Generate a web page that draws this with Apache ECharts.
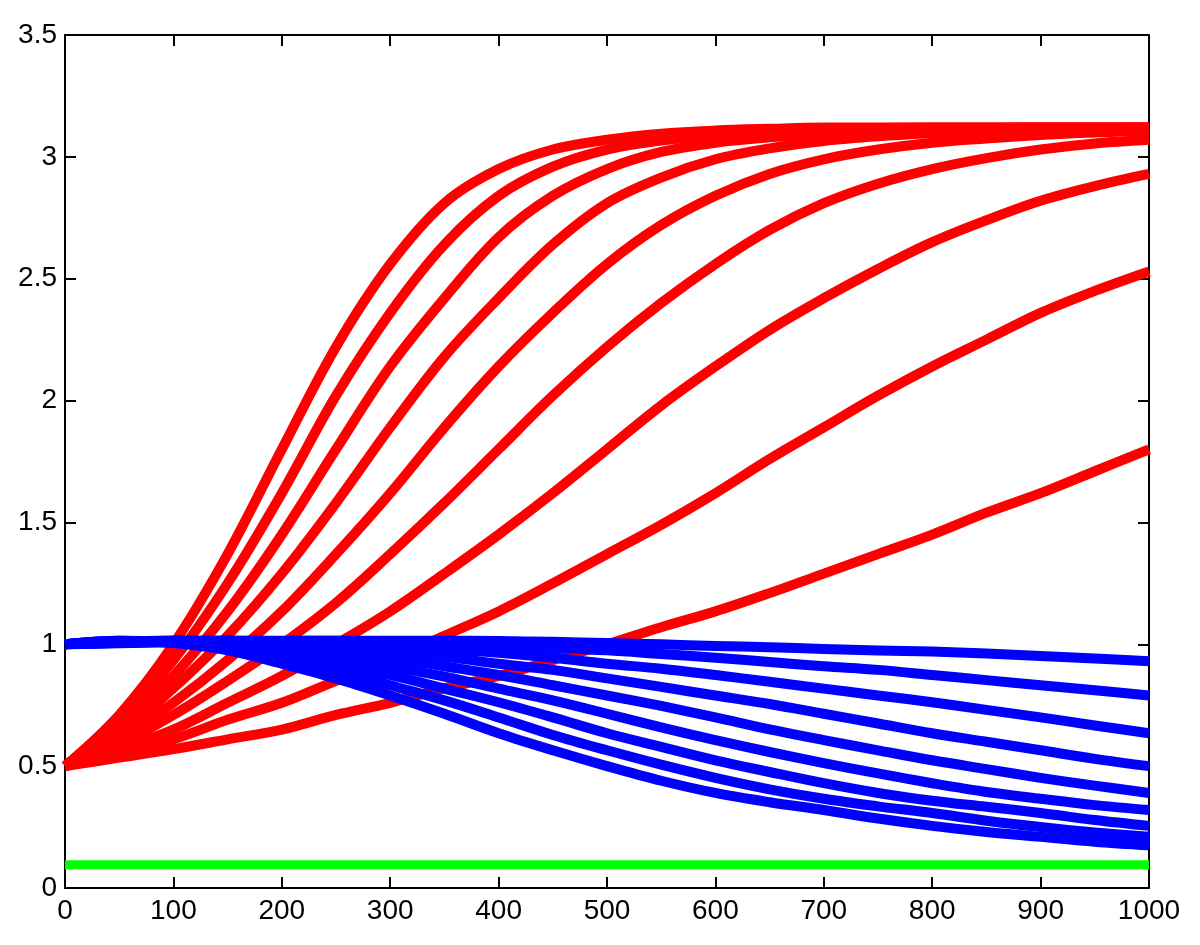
<!DOCTYPE html>
<html>
<head>
<meta charset="utf-8">
<script src="https://cdn.jsdelivr.net/npm/echarts@6/dist/echarts.min.js"></script>
<style>
html,body{margin:0;padding:0;background:#fff;}
#chart{width:1200px;height:945px;}
</style>
</head>
<body>
<div id="chart"></div>
<script>
const xs = [0,50,100,150,200,250,300,350,400,450,500,550,600,650,700,750,800,850,900,950,1000];
const xTicks = [0,100,200,300,400,500,600,700,800,900,1000];
const yTicks = [0,0.5,1,1.5,2,2.5,3,3.5];

const redS10 = [0.50,0.71,1.00,1.37,1.80,2.22,2.56,2.81,2.95,3.03,3.07,3.095,3.108,3.115,3.12,3.12,3.12,3.12,3.12,3.12,3.12];
const redS09 = [0.50,0.69,0.935,1.25,1.62,2.02,2.36,2.64,2.84,2.96,3.03,3.067,3.09,3.104,3.112,3.118,3.12,3.12,3.12,3.12,3.12];
const redS08 = [0.50,0.655,0.87,1.135,1.45,1.80,2.14,2.42,2.67,2.84,2.95,3.02,3.058,3.08,3.097,3.108,3.114,3.118,3.12,3.12,3.12];
const redS07 = [0.50,0.63,0.82,1.035,1.29,1.58,1.89,2.18,2.42,2.64,2.81,2.915,2.99,3.035,3.065,3.084,3.097,3.107,3.113,3.117,3.12];
const redS06 = [0.50,0.61,0.76,0.935,1.135,1.37,1.62,1.89,2.14,2.36,2.56,2.72,2.84,2.93,2.99,3.03,3.058,3.075,3.09,3.10,3.108];
const redS05 = [0.50,0.59,0.71,0.85,1.00,1.17,1.37,1.58,1.80,2.02,2.22,2.40,2.56,2.70,2.81,2.89,2.95,2.995,3.03,3.055,3.07];
const redS04 = [0.50,0.57,0.65,0.76,0.87,1.00,1.135,1.29,1.45,1.62,1.80,1.98,2.14,2.29,2.42,2.54,2.65,2.74,2.82,2.88,2.93];
const redS03 = [0.50,0.55,0.61,0.69,0.76,0.85,0.935,1.035,1.135,1.25,1.37,1.49,1.62,1.76,1.89,2.02,2.14,2.25,2.36,2.45,2.53];
const redS02 = [0.50,0.535,0.57,0.61,0.65,0.71,0.76,0.82,0.87,0.935,1.00,1.07,1.135,1.21,1.29,1.37,1.45,1.54,1.62,1.71,1.80];

const blueS10 = [1.00,1.015,1.005,0.975,0.92,0.86,0.79,0.715,0.635,0.565,0.50,0.44,0.39,0.352,0.32,0.285,0.255,0.23,0.21,0.19,0.175];
const blueS09 = [1.00,1.014,1.01,0.985,0.945,0.895,0.832,0.77,0.70,0.628,0.565,0.506,0.452,0.405,0.366,0.335,0.308,0.276,0.25,0.228,0.21];
const blueS08 = [1.00,1.013,1.013,0.993,0.965,0.92,0.874,0.818,0.762,0.70,0.635,0.579,0.524,0.476,0.43,0.39,0.358,0.333,0.308,0.279,0.255];
const blueS07 = [1.00,1.012,1.015,1.003,0.981,0.95,0.91,0.867,0.818,0.77,0.715,0.659,0.607,0.558,0.512,0.47,0.43,0.394,0.366,0.34,0.32];
const blueS06 = [1.00,1.011,1.015,1.01,0.993,0.975,0.945,0.91,0.874,0.832,0.79,0.747,0.70,0.651,0.607,0.565,0.524,0.488,0.452,0.42,0.39];
const blueS05 = [1.00,1.01,1.015,1.015,1.005,0.99,0.975,0.95,0.92,0.895,0.86,0.825,0.79,0.755,0.715,0.675,0.635,0.60,0.565,0.53,0.50];
const blueS04 = [1.00,1.008,1.013,1.015,1.013,1.005,0.993,0.981,0.965,0.945,0.92,0.90,0.874,0.846,0.818,0.79,0.762,0.731,0.70,0.667,0.635];
const blueS03 = [1.00,1.006,1.011,1.014,1.015,1.015,1.01,1.003,0.993,0.985,0.975,0.96,0.945,0.927,0.91,0.895,0.874,0.853,0.832,0.811,0.79];
const blueS02 = [1.00,1.004,1.008,1.011,1.013,1.015,1.015,1.015,1.013,1.01,1.005,1.0,0.993,0.988,0.981,0.975,0.97,0.962,0.952,0.942,0.93];

const greenX = [0,1000];
const greenY = [0.095,0.095];

const redSets = [redS10,redS09,redS08,redS07,redS06,redS05,redS04,redS03,redS02];
const blueSets = [blueS10,blueS09,blueS08,blueS07,blueS06,blueS05,blueS04,blueS03,blueS02];

function pairs(xv, yv){ return xv.map((x,i)=>[x,yv[i]]); }

const series = [];
redSets.forEach(d => series.push({type:'line', data:pairs(xs, d), symbol:'none', smooth:0.35,
  lineStyle:{color:'#ff0000', width:10, cap:'butt', join:'round'}, silent:true}));
blueSets.forEach(d => series.push({type:'line', data:pairs(xs, d), symbol:'none', smooth:0.35,
  lineStyle:{color:'#0000ff', width:10, cap:'butt', join:'round'}, silent:true}));
series.push({type:'line', data:pairs(greenX, greenY), symbol:'none',
  lineStyle:{color:'#00ff00', width:9, cap:'butt'}, silent:true});

const font = 'Liberation Sans, Arial, Helvetica, sans-serif';
const axisLine = {show:true, onZero:false, lineStyle:{color:'#000', width:2}};
const tick = {show:true, inside:true, length:11, lineStyle:{color:'#000', width:2}};

const chart = echarts.init(document.getElementById('chart'), null, {renderer:'canvas'});
chart.setOption({
  animation:false,
  backgroundColor:'#fff',
  grid:{left:65, right:51, top:35, bottom:57, containLabel:false},
  xAxis:[
    {type:'value', min:xTicks[0], max:xTicks[xTicks.length-1], interval:100, position:'bottom',
     axisLine:axisLine, axisTick:tick, splitLine:{show:false},
     axisLabel:{color:'#000', fontSize:28, fontFamily:font, margin:9, formatter:v => String(v)}},
    {type:'value', min:xTicks[0], max:xTicks[xTicks.length-1], interval:100, position:'top',
     axisLine:axisLine, axisTick:tick, splitLine:{show:false}, axisLabel:{show:false}}
  ],
  yAxis:[
    {type:'value', min:yTicks[0], max:yTicks[yTicks.length-1], interval:0.5, position:'left',
     axisLine:axisLine, axisTick:tick, splitLine:{show:false},
     axisLabel:{color:'#000', fontSize:28, fontFamily:font, margin:8, formatter:v => String(v)}},
    {type:'value', min:yTicks[0], max:yTicks[yTicks.length-1], interval:0.5, position:'right',
     axisLine:axisLine, axisTick:tick, splitLine:{show:false}, axisLabel:{show:false}}
  ],
  series:series
});
</script>
</body>
</html>
